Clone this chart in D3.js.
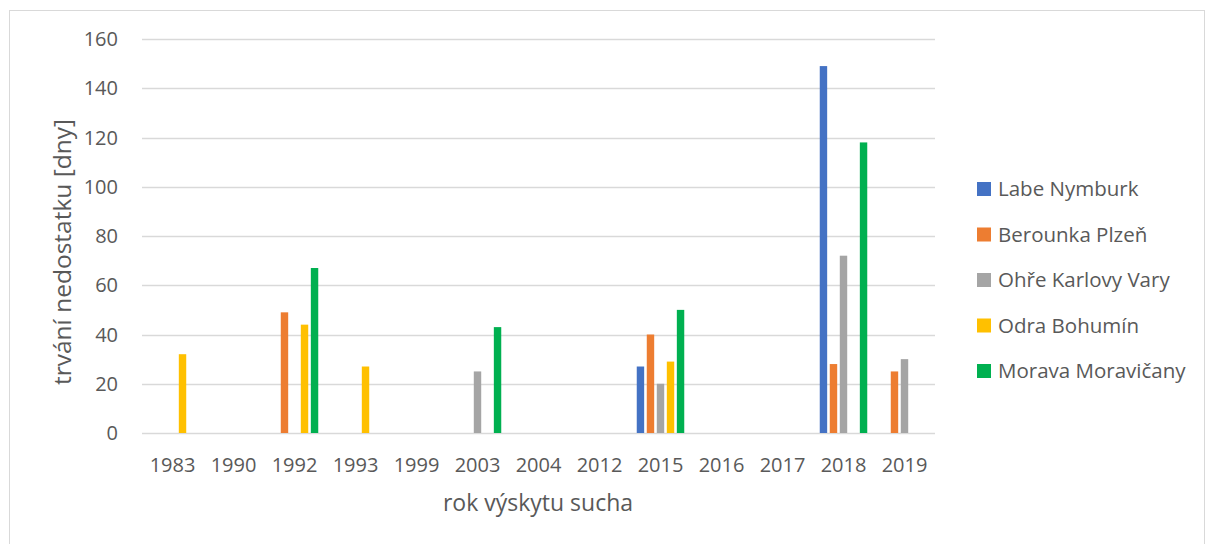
<!DOCTYPE html>
<html>
<head>
<meta charset="utf-8">
<script src="https://cdn.jsdelivr.net/npm/d3@7"></script>
<style>
  body { margin: 0; background: #fff; }
  text { font-family: "Open Sans", "Noto Sans", sans-serif; fill: #595959; }
</style>
</head>
<body>
<svg id="chart" width="1210" height="544"></svg>
<script>
// roky sucha
var years = ["1983", "1990", "1992", "1993", "1999", "2003", "2004", "2012", "2015", "2016", "2017", "2018", "2019"];
var stations = ["Labe Nymburk", "Berounka Plzeň", "Ohře Karlovy Vary", "Odra Bohumín", "Morava Moravičany"];
var colors = ["#4472c4", "#ed7d31", "#a5a5a5", "#ffc000", "#00b050"];

// trvání nedostatku [dny], 0 = bez sloupce
var labeNymburk      = [0, 0, 0, 0, 0, 0, 0, 0, 27, 0, 0, 149, 0];
var berounkaPlzen    = [0, 0, 49, 0, 0, 0, 0, 0, 40, 0, 0, 28, 25];
var ohreKarlovyVary  = [0, 0, 0, 0, 0, 25, 0, 0, 20, 0, 0, 72, 30];
var odraBohumin      = [32, 0, 44, 27, 0, 0, 0, 0, 29, 0, 0, 0, 0];
var moravaMoravicany = [0, 0, 67, 0, 0, 43, 0, 0, 50, 0, 0, 118, 0];
var series = [labeNymburk, berounkaPlzen, ohreKarlovyVary, odraBohumin, moravaMoravicany];
var yTicks = [0, 20, 40, 60, 80, 100, 120, 140, 160];

var svg = d3.select("#chart");

// rámeček grafu
svg.append("rect")
    .attr("x", 9.5).attr("y", 10.5)
    .attr("width", 1195).attr("height", 540)
    .attr("fill", "none")
    .attr("stroke", "#d9d9d9");

var plotLeft = 142, plotRight = 935, plotTop = 39, plotBottom = 433;

var x = d3.scaleBand().domain(years).range([plotLeft, plotRight]);
var xInner = d3.scaleBand().domain(d3.range(stations.length))
    .range([0, 47.5]).paddingInner(0.26);
var y = d3.scaleLinear().domain([0, 160]).range([plotBottom, plotTop]);

// mřížka
svg.append("g")
    .selectAll("line")
    .data(yTicks)
    .enter()
    .append("line")
    .attr("x1", plotLeft).attr("x2", plotRight)
    .attr("y1", d => Math.round(y(d)) + 0.5)
    .attr("y2", d => Math.round(y(d)) + 0.5)
    .style("stroke", "#d9d9d9")
    .style("stroke-width", 1.3);

// popisky osy y
svg.append("g")
    .selectAll("text")
    .data(yTicks)
    .enter()
    .append("text")
    .attr("x", 118)
    .attr("y", d => y(d))
    .attr("dy", "0.35em")
    .attr("text-anchor", "end")
    .style("font-size", "20px")
    .text(d => d);

// popisky osy x
svg.append("g")
    .selectAll("text")
    .data(years)
    .enter()
    .append("text")
    .attr("x", d => x(d) + x.bandwidth() / 2)
    .attr("y", 465)
    .attr("dy", "0.35em")
    .attr("text-anchor", "middle")
    .style("font-size", "20px")
    .text(d => d);

// sloupce
var groupOffset = (x.bandwidth() - 47.5) / 2;
series.forEach(function (vals, i) {
    svg.append("g")
        .selectAll("rect")
        .data(vals.map((v, j) => ({ year: years[j], value: v })).filter(d => d.value > 0))
        .enter()
        .append("rect")
        .attr("x", d => x(d.year) + groupOffset + xInner(i))
        .attr("y", d => y(d.value))
        .attr("width", xInner.bandwidth())
        .attr("height", d => y(0) - y(d.value))
        .style("fill", colors[i]);
});

// názvy os
svg.append("text")
    .attr("transform", "translate(62,252) rotate(-90)")
    .attr("text-anchor", "middle")
    .attr("dy", "0.35em")
    .style("font-size", "24.5px")
    .text("trvání nedostatku [dny]");

svg.append("text")
    .attr("x", 538)
    .attr("y", 503)
    .attr("dy", "0.35em")
    .attr("text-anchor", "middle")
    .style("font-size", "23px")
    .text("rok výskytu sucha");

// legenda
var legend = svg.append("g")
    .selectAll("g")
    .data(stations)
    .enter()
    .append("g")
    .attr("transform", (d, i) => "translate(977," + (189 + i * 45.5) + ")");

legend.append("rect")
    .attr("x", 0).attr("y", -7)
    .attr("width", 14).attr("height", 14)
    .style("fill", (d, i) => colors[i]);

legend.append("text")
    .attr("x", 21)
    .attr("dy", "0.35em")
    .style("font-size", "20.5px")
    .text(d => d);
</script>
</body>
</html>
